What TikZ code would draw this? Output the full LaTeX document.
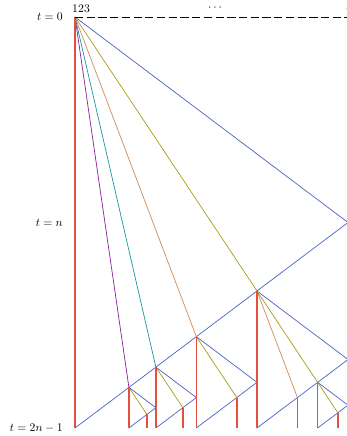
\documentclass[tikz,border=0pt]{standalone}
\usepackage{amsmath,amssymb}
\usetikzlibrary{calc}
\definecolor{conRed}{HTML}{E4503E}
\definecolor{conBlue}{HTML}{4A62C4}
\definecolor{conOlive}{HTML}{A89E14}
\definecolor{conBrown}{HTML}{D08A50}
\definecolor{conTeal}{HTML}{16999A}
\definecolor{conPurple}{HTML}{8A1E9C}
% sub-cone with apex (#1) and scale #2: right corner (#1-r), foot (#1-b)
\newcommand{\subcone}[2]{%
  \coordinate (#1-r) at ($(#1)+(#2*273,#2*205.5)$);
  \coordinate (#1-b) at ($(#1)+(0,#2*411)$);}

\begin{document}
\begin{tikzpicture}[x=0.3mm,y=-0.3mm,
   cone/.style={conBlue,line width=0.6pt},
   world/.style={conRed,line width=1.4pt},
   ray/.style={line width=0.6pt},
   axisdash/.style={line width=0.85pt,dash pattern=on 7pt off 3pt},
   tlabel/.style={anchor=east,inner sep=0pt},
   site/.style={anchor=base,inner sep=0pt}]
  \clip[use as bounding box] (-75,-17) rectangle (272,419);

  \coordinate (o) at (0,0);
  \subcone{o}{1}
  % hits on the lower edge of the big cone
  \coordinate (ol) at ($(o-b)!2/3!(o-r)$);
  \coordinate (br) at ($(o-b)!4/9!(o-r)$);
  \coordinate (te) at ($(o-b)!8/27!(o-r)$);
  \coordinate (pu) at ($(o-b)!16/81!(o-r)$);
  \subcone{ol}{1/3}
  \subcone{br}{2/9}
  \subcone{te}{4/27}
  \subcone{pu}{8/81}
  % second level
  \coordinate (olo) at ($(ol-b)!2/3!(ol-r)$);
  \coordinate (olbr) at ($(ol-b)!4/9!(ol-r)$);
  \coordinate (bro) at ($(br-b)!2/3!(br-r)$);
  \coordinate (teo) at ($(te-b)!2/3!(te-r)$);
  \coordinate (puo) at ($(pu-b)!2/3!(pu-r)$);
  \subcone{olo}{1/9}
  \coordinate (oloo) at ($(olo-b)!2/3!(olo-r)$);

  % cones
  \foreach \p in {o,ol,br,te,pu,olo}
    \draw[cone] (\p) -- (\p-r) -- (\p-b);

  % rays
  \draw[ray,conOlive] (o) -- (ol) -- (olo) -- (oloo) (br) -- (bro)
    (te) -- (teo) (pu) -- (puo);
  \draw[ray,conBrown] (o) -- (br) (ol) -- (olbr);
  \draw[ray,conTeal] (o) -- (te);
  \draw[ray,conPurple] (o) -- (pu);

  % world lines
  \foreach \p in {o,ol,br,te,pu,olo,olbr,oloo,bro,teo,puo}
    \draw[world] (\p) -- (\p |- o-b);

  \coordinate (far) at (300,0);
  \draw[axisdash] (o) -- (far);

  \node[tlabel] (t0) at (-12,0) {$t=0$};
  \node[tlabel] (tn) at (-12,205.5) {$t=n$};
  \node[tlabel] (tend) at (-12,411) {$t=2n-1$};
  \node[site] (p1) at (0,-5) {$1$};
  \node[site] (p2) at (6,-5) {$2$};
  \node[site] (p3) at (12,-5) {$3$};
  \node[inner sep=0pt] (dots) at (141,-9) {$\cdots$};
  \node[site] (pn) at (275,-5) {$n$};
\end{tikzpicture}
\end{document}
